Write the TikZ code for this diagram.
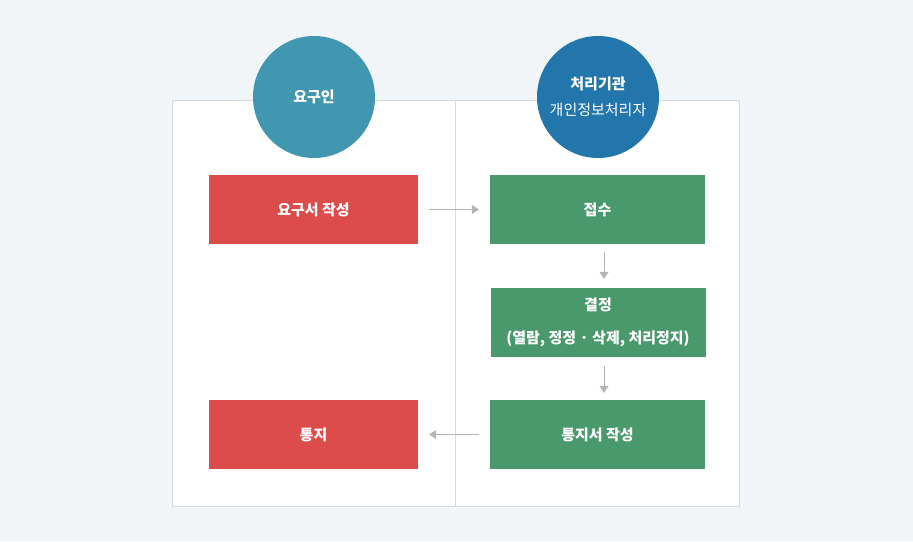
\documentclass[tikz,border=0pt]{standalone}
\usepackage{fontspec}
\setmainfont{Noto Sans CJK KR}
\usetikzlibrary{arrows.meta}
\definecolor{bgcol}{HTML}{F2F5F8}
\definecolor{linecol}{HTML}{D9D9D9}
\definecolor{redbox}{HTML}{DB4C4B}
\definecolor{greenbox}{HTML}{4A996C}
\definecolor{teal}{HTML}{4297B0}
\definecolor{navy}{HTML}{2376AB}
\definecolor{arrowcol}{HTML}{B4B4B4}
\tikzset{
  stepbox/.style = {rectangle, inner sep=0pt, text=white,
    font=\fontsize{15}{18}\selectfont\bfseries},
  reqbox/.style = {stepbox, fill=redbox, minimum width=209pt, minimum height=69pt},
  orgbox/.style = {stepbox, fill=greenbox, minimum width=215pt, minimum height=69pt},
  rolecircle/.style = {circle, inner sep=0pt, minimum size=122pt, text=white, align=center},
  flow/.style = {arrowcol, line width=1pt, -{Triangle[length=7pt,width=9pt]}}
}

\begin{document}
\begin{tikzpicture}[x=1pt, y=-1pt]
% 背景とパネル
\fill[bgcol] (0,0) rectangle (913,541);
\draw[linecol, fill=white] (172.5,100.5) rectangle (739.5,506.5);
\draw[linecol] (455.5,100.5) -- (455.5,506.5);

% 円
\node[rolecircle, fill=teal] (person) at (314,97)
  {\fontsize{15}{18}\selectfont\bfseries 요구인};
\node[rolecircle, fill=navy] (agency) at (598,97)
  {\fontsize{15}{18}\selectfont\bfseries 처리기관\\[11pt]\fontsize{15}{18}\selectfont 개인정보처리자};

% 左の列
\node[reqbox] (request) at (313.5,209.5) {요구서 작성};
\node[reqbox] (notice) at (313.5,434.5) {통지};

% 右の列
\node[orgbox] (receipt) at (597.5,209.5) {접수};
\node[orgbox, align=center] (decision) at (598,322.5)
  {결정\\[15pt](열람, 정정 · 삭제, 처리정지)};
\node[orgbox] (writenotice) at (597.5,434.5) {통지서 작성};

% 矢印
\draw[flow, shorten <=11pt, shorten >=11pt] (request) -- (receipt);
\draw[flow, shorten <=8pt, shorten >=9pt] ([xshift=6.5pt]receipt.south) -- ([xshift=6pt]decision.north);
\draw[flow, shorten <=9pt, shorten >=7pt] ([xshift=6pt]decision.south) -- ([xshift=6.5pt]writenotice.north);
\draw[flow, shorten <=11pt, shorten >=11pt] (writenotice) -- (notice);
\end{tikzpicture}
\end{document}
